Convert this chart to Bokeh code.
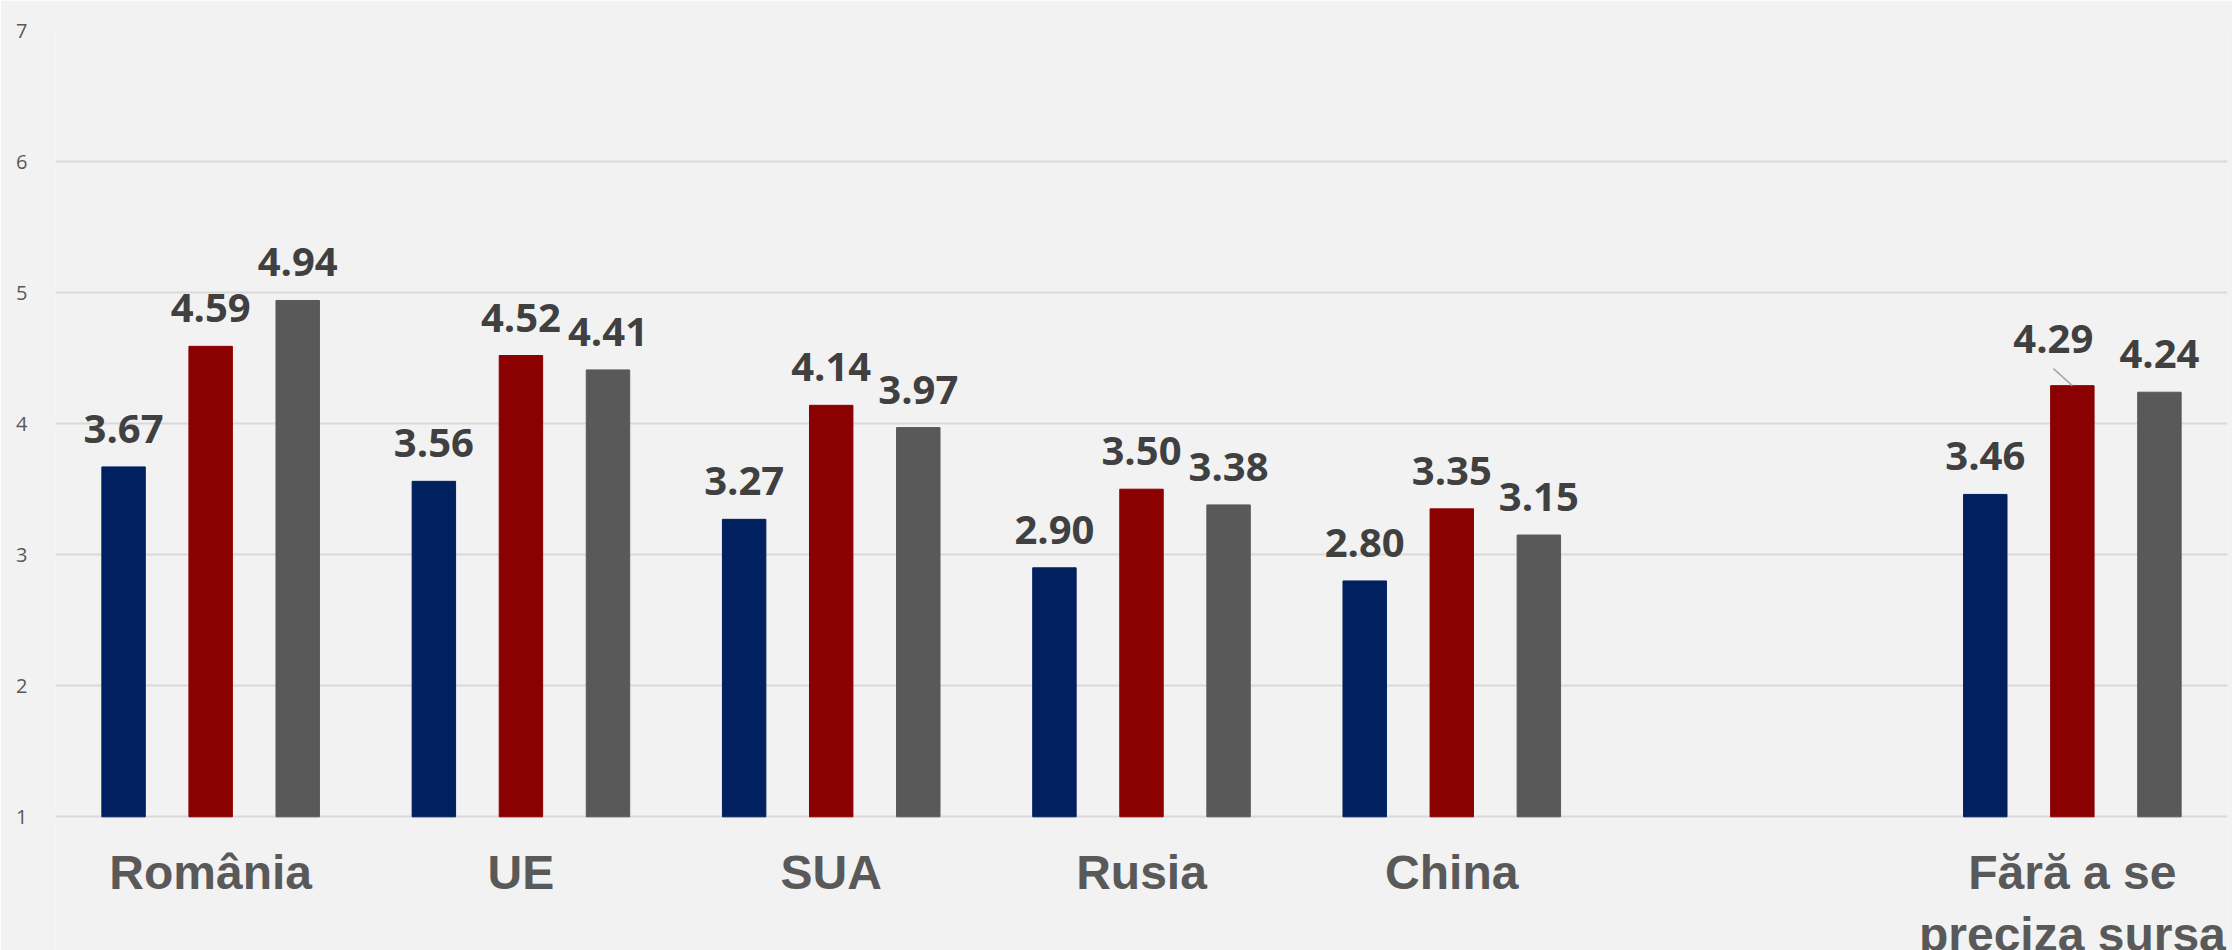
from bokeh.plotting import figure
from bokeh.models import ColumnDataSource, FactorRange, Range1d, FixedTicker
from bokeh.transform import dodge
from bokeh.core.properties import value
from bokeh.embed import file_html
from bokeh.resources import INLINE

# ---- data ----
groups = ["România", "UE", "SUA", "Rusia", "China", "Fără a se\npreciza sursa"]
axis_factors = ["România", "UE", "SUA", "Rusia", "China", " ", "Fără a se\npreciza sursa"]
series_a = [3.67, 3.56, 3.27, 2.90, 2.80, 3.46]
series_b = [4.59, 4.52, 4.14, 3.50, 3.35, 4.29]
series_c = [4.94, 4.41, 3.97, 3.38, 3.15, 4.24]
y_ticks = [1, 2, 3, 4, 5, 6, 7]

colors = ["#002060", "#8B0000", "#595959"]
offsets = [-0.2806, 0.0, 0.2806]
BAR_W = 0.14
BASE = 1            # value axis starts at 1
Y_VIEW_MIN = -0.02  # frame extends below the base to hold category names

BG = "#F2F2F2"

p = figure(
    x_range=FactorRange(factors=axis_factors, range_padding=0),
    y_range=Range1d(Y_VIEW_MIN, 7),
    width=2232, height=950,
    output_backend="svg", toolbar_location=None,
    min_border_left=55, min_border_right=5, min_border_top=30, min_border_bottom=0,
    background_fill_color=BG, border_fill_color=BG, outline_line_color=None,
)

src = ColumnDataSource(dict(
    cat=groups,
    a=series_a, b=series_b, c=series_c,
    a_lbl=[f"{v:.2f}" for v in series_a],
    b_lbl=[f"{v:.2f}" for v in series_b],
    c_lbl=[f"{v:.2f}" for v in series_c],
))

for key, col, off in zip(["a", "b", "c"], colors, offsets):
    p.vbar(x=dodge("cat", off, range=p.x_range), top=key, bottom=BASE, width=BAR_W,
           source=src, fill_color=col, line_color=col, line_width=1)

# data labels
n = len(groups)
special = n - 1
for key, off in zip(["a", "b", "c"], offsets):
    idx = list(range(n)) if key != "b" else list(range(n - 1))
    sub = ColumnDataSource(dict(
        cat=[groups[i] for i in idx],
        y=[src.data[key][i] for i in idx],
        t=[src.data[key + "_lbl"][i] for i in idx],
    ))
    p.text(x=dodge("cat", off, range=p.x_range), y="y", text="t", source=sub,
           text_font=value("Open Sans"), text_font_style="bold", text_font_size="40px",
           text_color="#404040", text_align="center", text_baseline="alphabetic",
           y_offset=-38)

# displaced label with leader line (Fără a se preciza sursa, series b)
sp = ColumnDataSource(dict(cat=[groups[special]], y=[series_b[special]],
                           y_lead=[series_b[special] + 0.13],
                           t=[f"{series_b[special]:.2f}"]))
p.text(x=dodge("cat", offsets[1], range=p.x_range), y="y", text="t", source=sp,
       text_font=value("Open Sans"), text_font_style="bold", text_font_size="40px",
       text_color="#404040", text_align="center", text_baseline="alphabetic",
       x_offset=-19, y_offset=-47)
p.segment(x0=dodge("cat", offsets[1] - 0.061, range=p.x_range), y0="y_lead",
          x1=dodge("cat", offsets[1], range=p.x_range), y1="y",
          source=sp, line_color="#A6A6A6", line_width=1.5)

# category names, positioned on the categorical scale just below the base line
cats = ColumnDataSource(dict(cat=groups, y=[BASE] * len(groups), t=groups))
p.text(x="cat", y="y", text="t", source=cats,
       text_font=value("Liberation Sans"), text_font_style="bold", text_font_size="48px",
       text_color="#595959", text_align="center", text_baseline="top",
       text_line_height=1.17, y_offset=29)

# axes
p.xaxis.visible = False
p.yaxis.ticker = FixedTicker(ticks=y_ticks)
p.yaxis.axis_line_color = None
p.yaxis.major_tick_line_color = None
p.yaxis.minor_tick_line_color = None
p.yaxis.major_label_standoff = 22
p.yaxis.major_label_text_font = "Open Sans"
p.yaxis.major_label_text_font_size = "20px"
p.yaxis.major_label_text_color = "#595959"

p.xgrid.grid_line_color = None
p.ygrid.grid_line_color = "#D9D9D9"
p.ygrid.grid_line_width = 2

html = file_html(p, INLINE)
html = html.replace("<body>", '<body style="background:#F2F2F2">', 1)
open("out.html", "w").write(html)
